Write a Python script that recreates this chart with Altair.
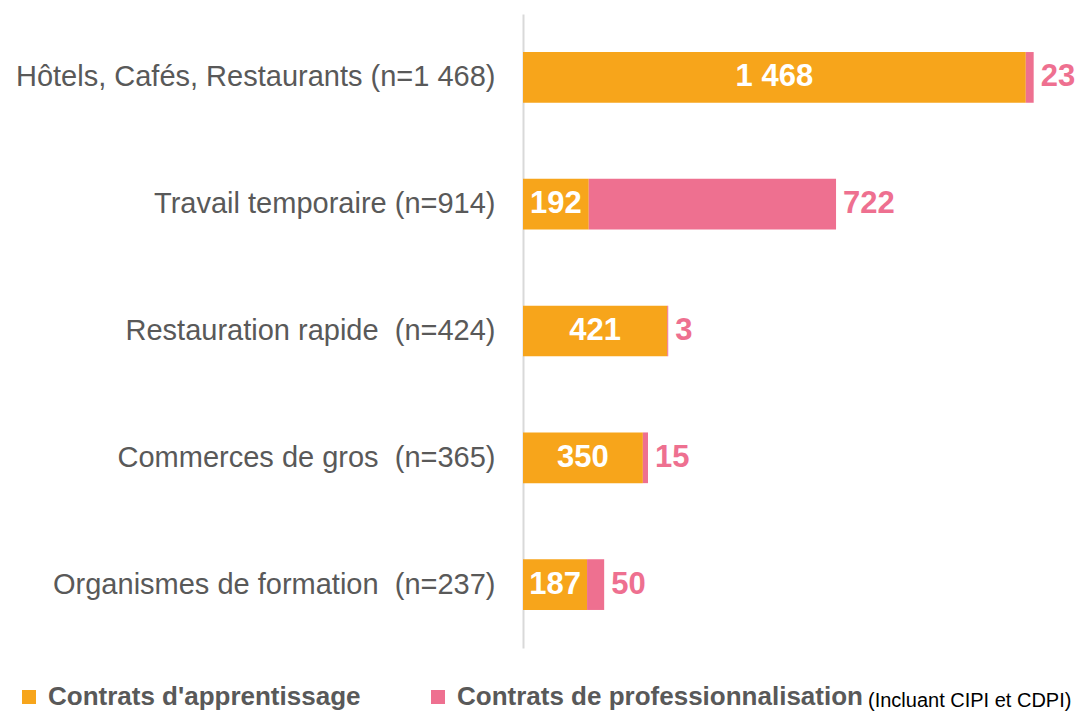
import altair as alt
import pandas as pd

categories = [
    "Hôtels, Cafés, Restaurants (n=1 468)",
    "Travail temporaire (n=914)",
    "Restauration rapide\u00a0 (n=424)",
    "Commerces de gros\u00a0 (n=365)",
    "Organismes de formation\u00a0 (n=237)",
]
apprentissage = [1468, 192, 421, 350, 187]
professionnalisation = [23, 722, 3, 15, 50]
series = ["Contrats d'apprentissage", "Contrats de professionnalisation"]
colors = ["#F7A51B", "#EE7090"]
note = ["(Incluant CIPI et CDPI)"]

FONT = "Liberation Sans"
GREY = "#595959"

rows = []
for c, a, p in zip(categories, apprentissage, professionnalisation):
    rows.append({"cat": c, "series": series[0], "value": a, "ord": 0})
    rows.append({"cat": c, "series": series[1], "value": p, "ord": 1})
long = pd.DataFrame(rows)

wide = pd.DataFrame({"cat": categories, "app": apprentissage, "pro": professionnalisation})
note_df = pd.DataFrame({"note": note})

yenc = alt.Y(
    "cat:N",
    sort=categories,
    scale=alt.Scale(paddingInner=0.6, paddingOuter=0.3),
    axis=alt.Axis(
        title=None, ticks=False, labelFont=FONT, labelFontSize=29,
        labelColor=GREY, labelPadding=28, labelLimit=0,
        domainColor="#D9D9D9", domainWidth=2,
    ),
)
xscale = alt.Scale(domain=[0, 1600])

bars = alt.Chart(long).mark_bar().encode(
    y=yenc,
    x=alt.X("value:Q", stack="zero", scale=xscale, axis=None),
    color=alt.Color(
        "series:N",
        scale=alt.Scale(domain=series, range=colors),
        legend=alt.Legend(
            title=None, orient="none", legendX=-507, legendY=670,
            direction="horizontal", symbolType="square", symbolSize=196,
            symbolStrokeWidth=0, labelFont=FONT, labelFontSize=26,
            labelFontWeight="bold", labelColor=GREY, columnPadding=64,
            labelOffset=6, labelLimit=0,
        ),
    ),
    order=alt.Order("ord:Q"),
)

app_labels = alt.Chart(wide).transform_calculate(
    mid="datum.app / 2",
    lab="replace(format(datum.app, ','), ',', ' ')",
).mark_text(
    font=FONT, fontSize=31, fontWeight="bold", color="white", baseline="middle"
).encode(
    y=alt.Y("cat:N", sort=categories),
    x=alt.X("mid:Q", scale=xscale),
    text="lab:N",
)

pro_labels = alt.Chart(wide).transform_calculate(
    total="datum.app + datum.pro"
).mark_text(
    font=FONT, fontSize=31, fontWeight="bold", color=colors[1],
    baseline="middle", align="left", dx=7,
).encode(
    y=alt.Y("cat:N", sort=categories),
    x=alt.X("total:Q", scale=xscale),
    text="pro:Q",
)

note_text = alt.Chart(note_df).mark_text(
    font=FONT, fontSize=20, color="#000000", align="left", baseline="alphabetic"
).encode(
    x=alt.value(345), y=alt.value(693), text="note:N"
)

chart = alt.layer(bars, app_labels, pro_labels, note_text).properties(
    width=548, height=634,
    autosize=alt.AutoSizeParams(type="none"),
    padding={"left": 515, "top": 6, "right": 5, "bottom": 64},
).configure_view(stroke=None)

chart.save("out.html", embed_options={"renderer": "svg", "actions": False})
